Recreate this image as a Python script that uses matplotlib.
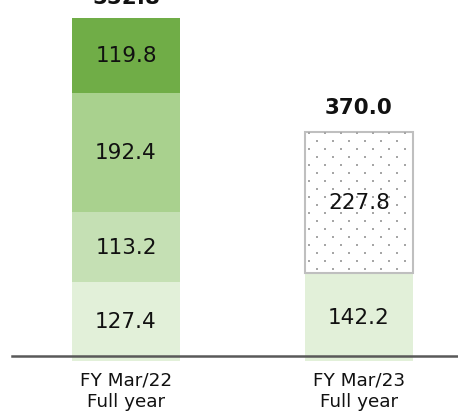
import numpy as np
import matplotlib
matplotlib.use('Agg')
import matplotlib.pyplot as plt

# data
categories = ['FY Mar/22\nFull year', 'FY Mar/23\nFull year']
fy22_values = [127.4, 113.2, 192.4, 119.8]
fy22_colors = ['#E2F0D9', '#C5E0B4', '#A9D18E', '#70AD47']
fy23_values = [142.2, 227.8]
fy23_colors = ['#E2F0D9', '#FFFFFF']

fig = plt.figure(figsize=(4.58, 4.14), dpi=100)
ax = fig.add_axes([0, 0, 1, 1])
ax.set_xlim(-0.541, 1.425)
ax.set_ylim(-84, 584)
ax.axis('off')

width = 0.46
label_size = 15.5

# FY Mar/22 stacked bar
bottom = 0
for v, c in zip(fy22_values, fy22_colors):
    ax.bar(0, v, width=width, bottom=bottom, color=c, edgecolor='none')
    ax.text(0, bottom + v / 2, f'{v:.1f}', ha='center', va='center',
            fontsize=label_size, color='#111111')
    bottom += v
ax.text(0, bottom + 35, f'{bottom:.1f}', ha='center', va='center',
        fontsize=label_size, fontweight='bold', color='#111111')

# FY Mar/23 stacked bar (second part is a forecast box with dots)
bottom = 0
for i, (v, c) in enumerate(zip(fy23_values, fy23_colors)):
    if i == 1:
        ax.bar(1, v, width=width, bottom=bottom, color=c, edgecolor='#BFBFBF',
               linewidth=1.5, zorder=2)
        # dotted fill
        x0, x1 = 1 - width / 2, 1 + width / 2
        dx, dy = 0.0687, 12.9
        xs, ys = [], []
        for r, y in enumerate(np.arange(bottom + dy / 2, bottom + v, dy)):
            off = dx / 2 if r % 2 == 0 else 0
            for x in np.arange(x0 + dx / 4 + off, x1, dx):
                xs.append(x)
                ys.append(y)
        ax.scatter(xs, ys, s=1.2, marker='s', color='#A6A6A6', linewidths=0,
                   zorder=3)
    else:
        ax.bar(1, v, width=width, bottom=bottom, color=c, edgecolor='none')
    ax.text(1, bottom + v / 2, f'{v:.1f}', ha='center', va='center',
            fontsize=label_size, color='#111111', zorder=4)
    bottom += v
ax.text(1, bottom + 40, f'{bottom:.1f}', ha='center', va='center',
        fontsize=label_size, fontweight='bold', color='#111111')

# baseline
ax.plot([-0.489, 1.425], [8, 8], color='#595959', linewidth=1.8, zorder=5)

# category labels
for i, cat in enumerate(categories):
    ax.text(i, -15, cat, ha='center', va='top', fontsize=13.2,
            color='#111111', linespacing=1.3)

fig.savefig('out.png', dpi=100)
